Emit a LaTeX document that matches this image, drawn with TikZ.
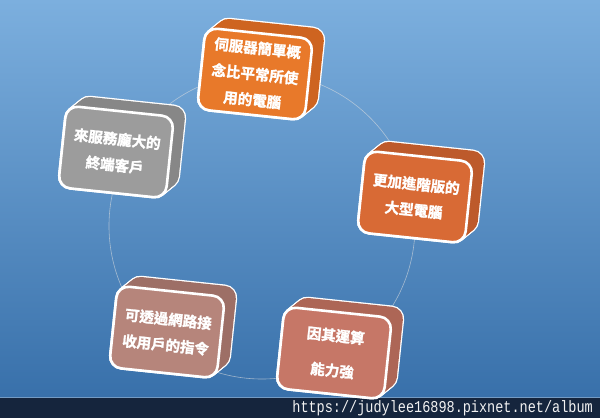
\documentclass[tikz,border=0pt]{standalone}
\usepackage{fontspec}
\newfontfamily\cjk{Noto Sans CJK TC Bold}[FakeBold=1.6]
\newfontfamily\urlmono{Liberation Mono}[FakeStretch=0.82]
\definecolor{bgtop}{RGB}{124,175,222}
\definecolor{bgbot}{RGB}{56,112,170}
\definecolor{stripnavy}{RGB}{21,37,61}
\definecolor{srvfront}{RGB}{232,121,42}
\definecolor{srvback}{RGB}{206,100,32}
\definecolor{bigfront}{RGB}{216,106,53}
\definecolor{bigback}{RGB}{189,90,43}
\definecolor{calcfront}{RGB}{198,119,103}
\definecolor{calcback}{RGB}{173,102,86}
\definecolor{netfront}{RGB}{182,133,123}
\definecolor{netback}{RGB}{157,111,102}
\definecolor{clifront}{RGB}{156,156,156}
\definecolor{cliback}{RGB}{135,135,135}
\begin{document}
\begin{tikzpicture}[x=1pt,y=1pt,yscale=-1,xscale=1,
  face/.style={draw=white, line width=2.6pt, rounded corners=12pt,
    minimum width=108pt, minimum height=82pt, rotate=-6, align=center,
    text=white, font=\cjk\fontsize{14.5pt}{26pt}\selectfont},
  ring/.style={draw=white!75!gray, line width=0.6pt, opacity=0.6}]
  \useasboundingbox (0,0) rectangle (600,418);

  % Background
  \shade[top color=bgtop, bottom color=bgbot] (0,0) rectangle (600,398);
  \fill[stripnavy] (0,398) rectangle (600,418);
  \draw[bgbot!70!white, line width=0.8pt] (0,397.6) -- (600,397.6);

  % Ring behind the blocks
  \coordinate (ringc) at (262,226);
  \draw[ring] (ringc) circle[radius=153];

  % Block depth (back face and sides)
  \foreach \cx/\cy/\bk in {255/74/srvback, 415/197/bigback, 334/353/calcback,
                           167/332/netback, 116/152/cliback}{
    \begin{scope}[shift={(\cx,\cy)}, rotate=6]
      \foreach \k in {0,...,11}
        \draw[white, line width=2.6pt, rounded corners=12pt] (-54+\k,-41-\k) rectangle (54+\k,41-\k);
      \foreach \k in {0,...,11}
        \fill[\bk, rounded corners=12pt] (-54+\k,-41-\k) rectangle (54+\k,41-\k);
    \end{scope}
  }

  % Front faces
  \node[face, fill=srvfront] (srv) at (255,74) {伺服器簡單概\\念比平常所使\\用的電腦};
  \node[face, fill=bigfront] (big) at (415,197) {更加進階版的\\大型電腦};
  \node[face, fill=calcfront] (calc) at (334,353) {因其運算\\[9pt]能力強};
  \node[face, fill=netfront] (net) at (167,332) {可透過網路接\\收用戶的指令};
  \node[face, fill=clifront] (cli) at (116,152) {來服務龐大的\\終端客戶};

  % Watermark
  \node[anchor=east, inner sep=0pt, text=white!90!gray, font=\urlmono\fontsize{16.5pt}{18pt}\selectfont]
    (url) at (593,408) {https://judylee16898.pixnet.net/album};
\end{tikzpicture}
\end{document}
